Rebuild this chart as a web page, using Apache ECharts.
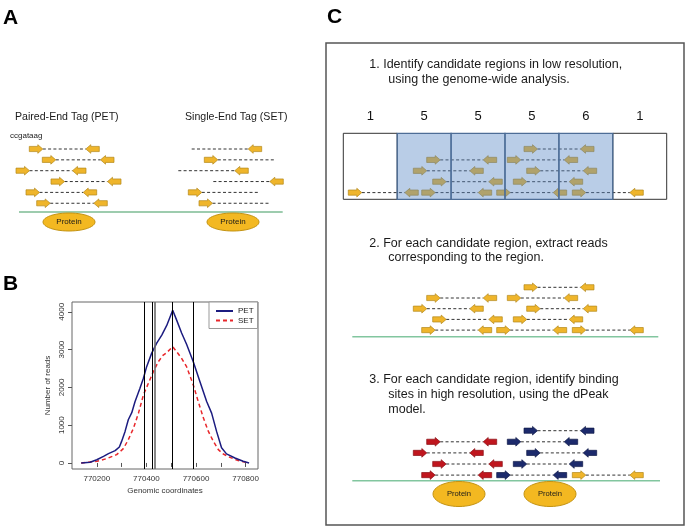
<!DOCTYPE html>
<html><head><meta charset="utf-8">
<script src="https://cdn.jsdelivr.net/npm/echarts@6/dist/echarts.min.js"></script>
<style>html,body{margin:0;padding:0;background:#fff}#c{width:688px;height:529px}</style>
</head><body><div id="c"></div>
<script>
// ---------- Panel B data ----------
const petX = [770137,770173,770200,770227,770247,770274,770291,770300,770314,770327,770341,770354,770374,770388,770401,770421,770441,770462,770482,770506,770522,770542,770562,770589,770616,770643,770663,770683,770703,770723,770757,770790,770814];
const petY = [0,18,85,176,246,325,422,571,835,1143,1330,1620,1978,2241,2549,2900,3164,3384,3640,4043,3780,3440,3140,2680,2150,1626,1318,835,400,240,132,44,0];
const setX = [770137,770200,770240,770280,770307,770327,770348,770368,770388,770408,770428,770448,770468,770482,770506,770522,770542,770562,770589,770609,770630,770650,770670,770690,770710,770737,770770,770812];
const setY = [0,44,114,220,378,615,923,1318,1802,2110,2417,2681,2857,2920,3076,2944,2769,2549,2066,1626,1187,835,571,352,237,149,62,0];
const peakLines = [770390, 770424, 770504, 770589];
const greyLines = [770435];
const xTickValues = [770200,770300,770400,770500,770600,770700,770800];
const xLabelValues = [770200,770400,770600,770800];
const yTickValues = [0,1000,2000,3000,4000];

// ---------- Diagram data (panels A and C) ----------
// paired reads: [start, end, row]
const petReads = [[29.3,99.3,0],[42.3,114,1],[16,86,2],[51,121,3],[26,96.7,4],[36.7,107.3,5]];
// single-end reads: [start, end, row, strand]  (+1: tag at left end, -1: tag at right end)
const setReads = [[191.7,261.7,0,-1],[204.3,274,1,1],[178.3,248.3,2,-1],[213.3,283.3,3,-1],[188.3,258.3,4,1],[199,269,5,1]];
// panel C reads: [start, end, row, group]  group: 0 other, 1 first site, 2 second site
const stepReads = [[524,594,0,2],[426.7,496.7,1,1],[507.3,577.7,1,2],[413.3,483.3,2,1],[526.7,596.7,2,2],[432.7,502.3,3,1],[513.3,582.7,3,2],[421.7,491.7,4,1],[496.7,566.7,4,2],[572.3,643.3,4,0]];
const extraReads = [[348.3,418.3,4,0]];
const windowEdges = [343.3,397.2,451.1,505,558.9,612.8,666.7];
const windowCounts = [1,5,5,5,6,1];
const countThreshold = 5;

const FONT = "'Liberation Sans', Arial, sans-serif";
const TAGCOL = [['#efb52b','#b3881a'],['#c0161e','#8a0f14'],['#1c2a6c','#101a48']];

// build diagram items: [x1, x2, y, kind(0 pair,1 right-end tag,2 left-end tag), color]
const readItems = [];
function addRows(list, base, step, kindFn, colFn){
  list.forEach(r => readItems.push([r[0], r[1], base + r[2]*step, kindFn(r), colFn(r)]));
}
addRows(petReads, 149, 10.85, () => 0, () => 0);
addRows(setReads, 149, 10.85, r => r[3] < 0 ? 1 : 2, () => 0);
addRows(stepReads.concat(extraReads), 149, 10.9, () => 0, () => 0);
addRows(stepReads, 287.3, 10.7, () => 0, () => 0);
addRows(stepReads, 430.7, 11.1, () => 0, r => r[3]);

const windowItems = windowCounts.map((c,i) => [windowEdges[i], windowEdges[i+1], c]);

function tag(x, y, dir, col){
  const b = 8.5*dir, t = 13.5*dir, h1 = 2.6, h2 = 4.3;
  return {type:'polygon', shape:{points:[[x,y-h1],[x+b,y-h1],[x+b,y-h2],[x+t,y],[x+b,y+h2],[x+b,y+h1],[x,y+h1]]},
    style:{fill:TAGCOL[col][0], stroke:TAGCOL[col][1], lineWidth:0.7}};
}
function renderRead(params, api){
  const p1 = api.coord([api.value(0), api.value(2)]);
  const p2 = api.coord([api.value(1), api.value(2)]);
  const kind = api.value(3), col = api.value(4);
  let ds = p1[0], de = p2[0];
  const ch = [];
  if (kind === 0 || kind === 2) ds += 13.5;
  if (kind === 0 || kind === 1) de -= 13.5;
  ch.push({type:'line', shape:{x1:ds, y1:p1[1], x2:de, y2:p1[1]}, style:{stroke:'#333', lineWidth:1, lineDash:[3,2.3]}});
  if (kind === 0 || kind === 2) ch.push(tag(p1[0], p1[1], 1, col));
  if (kind === 0 || kind === 1) ch.push(tag(p2[0], p2[1], -1, col));
  return {type:'group', children:ch};
}
function renderWindow(params, api){
  const a = api.coord([api.value(0), 133.3]);
  const b = api.coord([api.value(1), 199.3]);
  const c = api.value(2);
  const shaded = c >= countThreshold;
  const lab = api.coord([(api.value(0)+api.value(1))/2, 116.7]);
  return {type:'group', children:[
    {type:'rect', z2: shaded ? 2 : 1, shape:{x:a[0], y:a[1], width:b[0]-a[0], height:b[1]-a[1]},
      style:{fill: shaded ? 'rgba(88,136,198,0.42)' : 'rgba(0,0,0,0)', stroke: shaded ? '#4d6d96' : '#333', lineWidth: shaded ? 1.3 : 1}},
    {type:'text', x:lab[0], y:lab[1], style:{text:String(c), align:'center', verticalAlign:'middle', textAlign:'center', textVerticalAlign:'middle', fontSize:13, fontFamily:FONT, fill:'#111'}}
  ]};
}

function ellipse(cx, cy, rx, ry){
  const pts = [];
  for (let i = 0; i < 48; i++){ const t = i/48*Math.PI*2; pts.push([cx+rx*Math.cos(t), cy+ry*Math.sin(t)]); }
  return pts;
}
function txt(x, y, s, size, opts){
  return {type:'text', x:x, y:y, style:Object.assign({text:s, fontSize:size, fontFamily:FONT, fill:'#1a1a1a', verticalAlign:'middle', textVerticalAlign:'middle'}, opts||{})};
}
function protein(cx, cy, rx, ry, fs){
  return [
    {type:'polygon', shape:{points:ellipse(cx,cy,rx,ry)}, style:{fill:'#f3b821', stroke:'#c39313', lineWidth:1}},
    txt(cx, cy, 'Protein', fs, {align:'center', textAlign:'center'})
  ];
}

const graphics = [
  txt(3, 18, 'A', 21, {fontWeight:'bold', fill:'#000'}),
  txt(3, 284, 'B', 21, {fontWeight:'bold', fill:'#000'}),
  txt(327, 17, 'C', 21, {fontWeight:'bold', fill:'#000'}),
  txt(15, 117, 'Paired-End Tag (PET)', 10.6),
  txt(185, 117, 'Single-End Tag (SET)', 10.6),
  txt(10, 136, 'ccgataag', 8),
  {type:'line', shape:{x1:19, y1:212, x2:282.7, y2:212}, style:{stroke:'#3d9a5e', lineWidth:1.2}},
  ...protein(69, 222, 26, 9, 8),
  ...protein(233, 222, 26, 9, 8),
  {type:'rect', shape:{x:326, y:43, width:358, height:482}, style:{fill:'none', stroke:'#555', lineWidth:1.5}},
  txt(369.3, 65, '1. Identify candidate regions in low resolution,', 12.5),
  txt(388.3, 80, 'using the genome-wide analysis.', 12.5),
  txt(369.3, 243.3, '2. For each candidate region, extract reads', 12.5),
  txt(388.3, 257.7, 'corresponding to the region.', 12.5),
  txt(369.3, 380, '3. For each candidate region, identify binding', 12.5),
  txt(388.3, 395, 'sites in high resolution, using the dPeak', 12.5),
  txt(388.3, 410, 'model.', 12.5),
  {type:'line', shape:{x1:352.3, y1:336.7, x2:658.3, y2:336.7}, style:{stroke:'#82c69f', lineWidth:1.5}},
  {type:'line', shape:{x1:352.3, y1:480.7, x2:660, y2:480.7}, style:{stroke:'#82c69f', lineWidth:1.5}},
  ...protein(459, 494, 26, 12.5, 7.6),
  ...protein(550, 494, 26, 12.5, 7.6)
];

const chart = echarts.init(document.getElementById('c'), null, {renderer:'canvas'});
chart.setOption({
  animation: false,
  backgroundColor: '#fff',
  textStyle: {fontFamily: FONT},
  graphic: {elements: graphics},
  legend: {
    data: ['PET','SET'], orient:'vertical', left:209, top:302, itemWidth:17, itemHeight:8, itemGap:1.5,
    padding:[5,4,4,6], borderColor:'#999', borderWidth:1, backgroundColor:'#fff',
    itemStyle:{opacity:0, borderWidth:0},
    textStyle:{fontSize:8, color:'#222', fontFamily:FONT}
  },
  grid: [
    {left:72, top:302, width:186, height:167, show:true, borderColor:'#666', borderWidth:1, backgroundColor:'rgba(0,0,0,0)'},
    {left:0, top:0, width:688, height:529}
  ],
  xAxis: [
    {type:'value', gridIndex:0, min:770100, max:770850,
     axisLine:{show:false}, splitLine:{show:false},
     axisTick:{show:true, inside:false, length:4, customValues:xTickValues, lineStyle:{color:'#555'}},
     axisLabel:{customValues:xLabelValues, fontSize:8, color:'#333', margin:6, formatter: v => String(v)},
     name:'Genomic coordinates', nameLocation:'middle', nameGap:18, nameTextStyle:{fontSize:8, color:'#333'}},
    {type:'value', gridIndex:1, min:0, max:688, show:false}
  ],
  yAxis: [
    {type:'value', gridIndex:0, min:-160, max:4260,
     axisLine:{show:false}, splitLine:{show:false},
     axisTick:{show:true, inside:false, length:4, customValues:yTickValues, lineStyle:{color:'#555'}},
     axisLabel:{customValues:yTickValues, fontSize:8, color:'#333', margin:6, rotate:90, formatter: v => String(v)},
     name:'Number of reads', nameLocation:'middle', nameGap:20, nameRotate:90, nameTextStyle:{fontSize:8, color:'#333'}},
    {type:'value', gridIndex:1, min:0, max:529, inverse:true, show:false}
  ],
  series: [
    {name:'PET', type:'line', xAxisIndex:0, yAxisIndex:0, symbol:'none', showSymbol:false,
     data: petX.map((x,i) => [x, petY[i]]), lineStyle:{color:'#1c1c80', width:1.5}, itemStyle:{color:'#1c1c80'}, z:3,
     markLine:{silent:true, symbol:'none', label:{show:false}, animation:false,
       data: peakLines.map(v => ({xAxis:v, lineStyle:{color:'#000', width:1, type:'solid'}}))
         .concat(greyLines.map(v => ({xAxis:v, lineStyle:{color:'#6a6a6a', width:1.6, type:'solid'}})))}},
    {name:'SET', type:'line', xAxisIndex:0, yAxisIndex:0, symbol:'none', showSymbol:false,
     data: setX.map((x,i) => [x, setY[i]]), lineStyle:{color:'#e8272b', width:1.5, type:[4,3]}, itemStyle:{color:'#e8272b'}, z:2},
    {type:'custom', xAxisIndex:1, yAxisIndex:1, renderItem:renderRead, data:readItems, encode:{x:[0,1], y:2}, z:4, silent:true},
    {type:'custom', xAxisIndex:1, yAxisIndex:1, renderItem:renderWindow, data:windowItems, encode:{x:[0,1]}, z:5, silent:true}
  ]
});
</script>
</body></html>
